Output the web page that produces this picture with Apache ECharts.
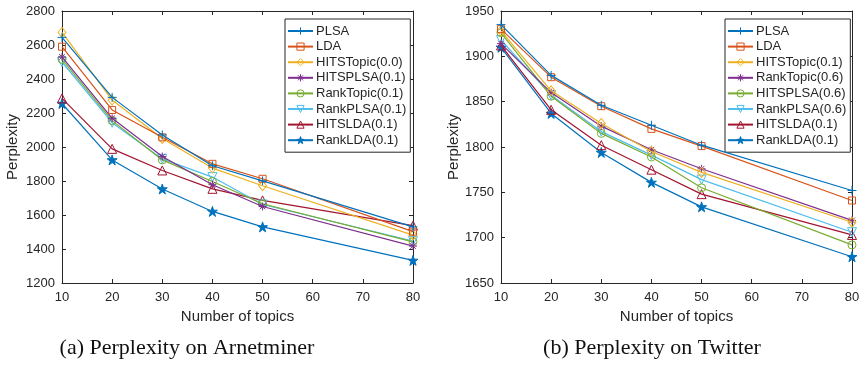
<!DOCTYPE html>
<html>
<head>
<meta charset="utf-8">
<script src="https://cdn.jsdelivr.net/npm/echarts@6/dist/echarts.min.js"></script>
<style>html,body{margin:0;padding:0;background:#fff}#c{width:867px;height:366px}</style>
</head>
<body>
<div id="c"></div>
<script>
// ---- data ----
const topics = [10, 20, 30, 40, 50, 80];

const arnetNames = ['PLSA', 'LDA', 'HITSTopic(0.0)', 'HITSPLSA(0.1)', 'RankTopic(0.1)', 'RankPLSA(0.1)', 'HITSLDA(0.1)', 'RankLDA(0.1)'];
const arnetPLSA      = [2645, 2292, 2071, 1890, 1801, 1530];
const arnetLDA       = [2590, 2218, 2057, 1901, 1813, 1502];
const arnetHITSTopic = [2674, 2276, 2050, 1876, 1772, 1482];
const arnetHITSPLSA  = [2530, 2169, 1944, 1778, 1650, 1417];
const arnetRankTopic = [2515, 2155, 1924, 1797, 1666, 1442];
const arnetRankPLSA  = [2500, 2143, 1930, 1823, 1662, 1447];
const arnetHITSLDA   = [2286, 1989, 1862, 1754, 1686, 1538];
const arnetRankLDA   = [2256, 1924, 1753, 1621, 1530, 1333];
const arnetValues = [arnetPLSA, arnetLDA, arnetHITSTopic, arnetHITSPLSA, arnetRankTopic, arnetRankPLSA, arnetHITSLDA, arnetRankLDA];

const twitNames = ['PLSA', 'LDA', 'HITSTopic(0.1)', 'RankTopic(0.6)', 'HITSPLSA(0.6)', 'RankPLSA(0.6)', 'HITSLDA(0.1)', 'RankLDA(0.1)'];
const twitPLSA      = [1935, 1879, 1846, 1824, 1802, 1752];
const twitLDA       = [1930, 1877, 1845, 1820, 1801, 1741];
const twitHITSTopic = [1928, 1862, 1826, 1795, 1772, 1717];
const twitRankTopic = [1914, 1860, 1823, 1797, 1776, 1719];
const twitHITSPLSA  = [1926, 1856, 1815, 1789, 1755, 1692];
const twitRankPLSA  = [1918, 1857, 1817, 1791, 1764, 1706];
const twitHITSLDA   = [1912, 1841, 1802, 1775, 1748, 1703];
const twitRankLDA   = [1910, 1837, 1794, 1761, 1734, 1679];
const twitValues = [twitPLSA, twitLDA, twitHITSTopic, twitRankTopic, twitHITSPLSA, twitRankPLSA, twitHITSLDA, twitRankLDA];

const xTicks = {min: 10, max: 80, interval: 10};
const yTicksArnet = {min: 1200, max: 2800, interval: 200};
const yTicksTwit = {min: 1650, max: 1950, interval: 50};

const captions = ['(a) Perplexity on Arnetminer', '(b) Perplexity on Twitter'];

// ---- styles ----
const colors = ['#0072BD', '#D95319', '#EDB120', '#7E2F8E', '#77AC30', '#4DBEEE', '#A2142F', '#0072BD'];
const STAR = 'path://M10,0L12.245,6.909L19.511,6.91L13.633,11.18L15.878,18.09L10,13.82L4.122,18.09L6.367,11.18L0.489,6.91L7.755,6.909Z';
const PLUS = 'path://M0,5L10,5M5,0L5,10';
const AST = 'path://M5,0L5,10M0,5L10,5M1.5,1.5L8.5,8.5M8.5,1.5L1.5,8.5';
const CLEAR = 'rgba(255,255,255,0)';
const markers = [
  {symbol: PLUS, size: 9, rot: 0, fill: false},
  {symbol: 'rect', size: 7, rot: 0, fill: false},
  {symbol: 'diamond', size: [8, 10], rot: 0, fill: false},
  {symbol: AST, size: 8, rot: 0, fill: false},
  {symbol: 'circle', size: 8, rot: 0, fill: false},
  {symbol: 'triangle', size: 9, rot: 180, fill: false},
  {symbol: 'triangle', size: 9, rot: 0, fill: false},
  {symbol: STAR, size: 10, rot: 0, fill: true}
];
const axisColor = '#262626';
const FONT = 'Liberation Sans';

function makeSeries(names, values, gi) {
  return names.map((n, i) => {
    const m = markers[i], c = colors[i];
    return {
      type: 'line', name: n, xAxisIndex: gi * 2, yAxisIndex: gi * 2,
      data: topics.map((x, k) => [x, values[i][k]]),
      symbol: m.symbol, symbolSize: m.size, symbolRotate: m.rot,
      showAllSymbol: true, animation: false,
      lineStyle: {color: c, width: 1.2},
      itemStyle: {color: m.fill ? c : CLEAR, borderColor: c, borderWidth: 1},
      emphasis: {disabled: true}, z: 2 + (8 - i)
    };
  });
}

function xAx(gi, top) {
  return {
    type: 'value', gridIndex: gi, position: top ? 'top' : 'bottom',
    min: xTicks.min, max: xTicks.max, interval: xTicks.interval,
    name: top ? '' : 'Number of topics', nameLocation: 'middle', nameGap: 24,
    nameTextStyle: {fontFamily: FONT, fontSize: 15, color: axisColor},
    axisLine: {show: true, lineStyle: {color: axisColor, width: 1}},
    axisTick: {show: true, inside: true, length: 4, lineStyle: {color: axisColor}},
    axisLabel: {show: !top, fontFamily: FONT, fontSize: 13, color: axisColor, margin: 8, formatter: v => String(v)},
    splitLine: {show: false}
  };
}
function yAx(gi, t, right, gap) {
  return {
    type: 'value', gridIndex: gi, position: right ? 'right' : 'left',
    min: t.min, max: t.max, interval: t.interval,
    name: right ? '' : 'Perplexity', nameLocation: 'middle', nameGap: gap,
    nameTextStyle: {fontFamily: FONT, fontSize: 15, color: axisColor},
    axisLine: {show: true, lineStyle: {color: axisColor, width: 1}},
    axisTick: {show: true, inside: true, length: 4, lineStyle: {color: axisColor}},
    axisLabel: {show: !right, fontFamily: FONT, fontSize: 13, color: axisColor, margin: 7, formatter: v => String(v)},
    splitLine: {show: false}
  };
}
function legend(names, left) {
  return {
    data: names.map((n, i) => ({
      name: n,
      itemStyle: {color: markers[i].fill ? colors[i] : CLEAR, borderColor: colors[i], borderWidth: 1}
    })),
    orient: 'vertical', left: left, top: 19,
    itemWidth: 25, itemHeight: 9, itemGap: 1.6,
    borderColor: axisColor, borderWidth: 1, padding: [5, 4, 5, 2],
    backgroundColor: '#fff',
    textStyle: {fontFamily: FONT, fontSize: 13, color: axisColor, lineHeight: 14, padding: [0, 0, 0, -2]},
    selectedMode: false
  };
}

const chart = echarts.init(document.getElementById('c'), null, {renderer: 'canvas'});
chart.setOption({
  backgroundColor: '#fff',
  animation: false,
  grid: [
    {left: 62, top: 11, width: 351, height: 272},
    {left: 501, top: 11, width: 351, height: 272}
  ],
  xAxis: [xAx(0, false), xAx(0, true), xAx(1, false), xAx(1, true)],
  yAxis: [yAx(0, yTicksArnet, false, 42), yAx(0, yTicksArnet, true, 0), yAx(1, yTicksTwit, false, 38), yAx(1, yTicksTwit, true, 0)],
  legend: [legend(arnetNames, 285), legend(twitNames, 725)],
  series: makeSeries(arnetNames, arnetValues, 0).concat(makeSeries(twitNames, twitValues, 1)),
  graphic: [
    {type: 'text', x: 187, y: 348, style: {text: captions[0], fontFamily: 'Liberation Serif', fontSize: 22, fill: '#111', textAlign: 'center', textVerticalAlign: 'middle'}},
    {type: 'text', x: 652, y: 348, style: {text: captions[1], fontFamily: 'Liberation Serif', fontSize: 22, fill: '#111', textAlign: 'center', textVerticalAlign: 'middle'}}
  ]
});
</script>
</body>
</html>
